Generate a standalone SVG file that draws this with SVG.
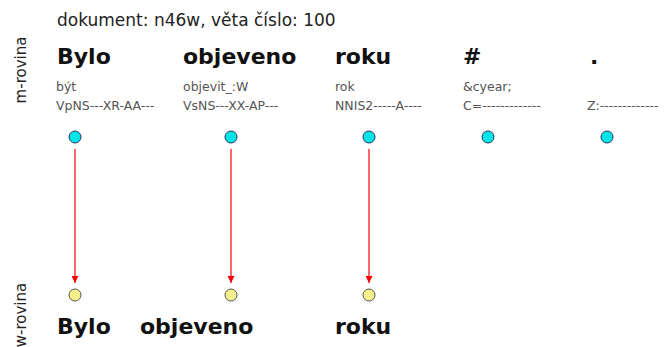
<svg xmlns="http://www.w3.org/2000/svg" width="665" height="347" viewBox="0 0 665 347">
<defs>
<style>
.title{font-family:"DejaVu Sans",sans-serif;font-size:17px;fill:#222}
.form{font-family:"DejaVu Sans",sans-serif;font-size:22px;font-weight:bold;fill:#111}
.small{font-family:"DejaVu Sans",sans-serif;font-size:12.5px;fill:#555}
.side{font-family:"DejaVu Sans",sans-serif;font-size:15px;fill:#222}
.mnode{fill:#00e5e5;stroke:#336;stroke-width:1}
.wnode{fill:#f5f08a;stroke:#555;stroke-width:1}
.edge{stroke:#ff0000;stroke-width:1.2;fill:none}
</style>
<marker id="arr" viewBox="0 0 10 10" refX="10" refY="5" markerWidth="7" markerHeight="7" orient="auto" markerUnits="userSpaceOnUse">
<path d="M0,0 L10,5 L0,10 Z" fill="#ff0000"/>
</marker>
</defs>
<rect width="665" height="347" fill="#fff"/>
<text class="title" x="57" y="26">dokument: n46w, věta číslo: 100</text>
<text class="side" transform="translate(26,70) rotate(-90)" text-anchor="middle">m-rovina</text>
<text class="side" transform="translate(26,315) rotate(-90)" text-anchor="middle">w-rovina</text>
<g id="m1">
<text class="form" x="57" y="64">Bylo</text>
<text class="small" x="56" y="91">být</text>
<text class="small" x="56" y="110">VpNS---XR-AA---</text>
<circle class="mnode" cx="75" cy="137" r="6"/>
</g>
<g id="m2">
<text class="form" x="183" y="64">objeveno</text>
<text class="small" x="183" y="91">objevit_:W</text>
<text class="small" x="183" y="110">VsNS---XX-AP---</text>
<circle class="mnode" cx="231" cy="137" r="6"/>
</g>
<g id="m3">
<text class="form" x="335" y="64">roku</text>
<text class="small" x="335" y="91">rok</text>
<text class="small" x="335" y="110">NNIS2-----A----</text>
<circle class="mnode" cx="369" cy="137" r="6"/>
</g>
<g id="m4">
<text class="form" x="463" y="64">#</text>
<text class="small" x="463" y="91">&amp;cyear;</text>
<text class="small" x="463" y="110">C=-------------</text>
<circle class="mnode" cx="488" cy="137" r="6"/>
</g>
<g id="m5">
<text class="form" x="590" y="64">.</text>
<text class="small" x="587" y="110">Z:-------------</text>
<circle class="mnode" cx="607" cy="137" r="6"/>
</g>
<g id="w1">
<circle class="wnode" cx="75" cy="295" r="6"/>
<text class="form" x="57" y="334">Bylo</text>
</g>
<g id="w2">
<circle class="wnode" cx="231" cy="295" r="6"/>
<text class="form" x="140" y="334">objeveno</text>
</g>
<g id="w3">
<circle class="wnode" cx="369" cy="295" r="6"/>
<text class="form" x="335" y="334">roku</text>
</g>
<g id="edges">
<line class="edge" x1="75" y1="149" x2="75" y2="283" marker-end="url(#arr)"/>
<line class="edge" x1="231" y1="149" x2="231" y2="283" marker-end="url(#arr)"/>
<line class="edge" x1="369" y1="149" x2="369" y2="283" marker-end="url(#arr)"/>
</g>
</svg>
